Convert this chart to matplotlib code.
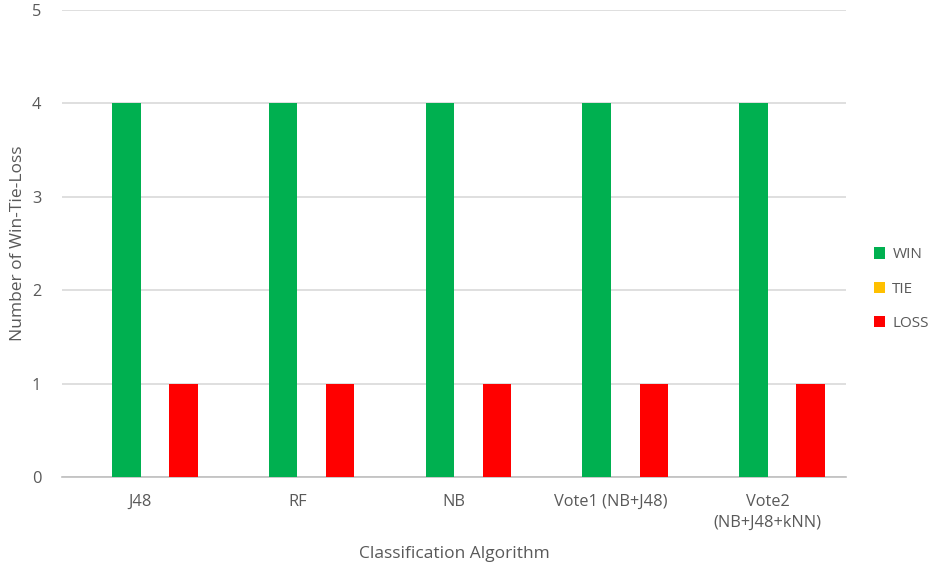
import matplotlib
matplotlib.use("Agg")
import matplotlib.pyplot as plt
import numpy as np

categories = ["J48", "RF", "NB", "Vote1 (NB+J48)", "Vote2\n(NB+J48+kNN)"]
win = [4, 4, 4, 4, 4]
tie = [0, 0, 0, 0, 0]
loss = [1, 1, 1, 1, 1]
series_names = ["WIN", "TIE", "LOSS"]
colors = ["#00B050", "#FFC000", "#FF0000"]

plt.rcParams['font.family'] = ['Open Sans', 'DejaVu Sans']
fig = plt.figure(figsize=(9.3, 5.66), dpi=100)
ax = fig.add_axes([0.0667, 0.1572, 0.8430, 0.8251])

x = np.arange(len(categories))
w = 0.182
offsets = [-0.09, 0.092, 0.274]
for vals, name, c, o in zip([win, tie, loss], series_names, colors, offsets):
    ax.bar(x + o, vals, width=w, color=c, label=name, zorder=3)

ax.set_xlim(-0.5, len(categories) - 0.5)
ax.set_ylim(0, 5)
ax.set_yticks(range(6))
ax.yaxis.grid(True, color="#d9d9d9", linewidth=1.2, zorder=0)
for s in ["top", "right", "left"]:
    ax.spines[s].set_visible(False)
ax.spines["bottom"].set_color("#bfbfbf")
ax.spines["bottom"].set_linewidth(1.2)
ax.tick_params(axis="both", length=0, colors="#595959", labelsize=11.8)
ax.tick_params(axis="x", pad=12)
ax.tick_params(axis="y", pad=15)
ax.set_xticks(x)
ax.set_xticklabels(categories, linespacing=1.4)
ax.set_xlabel("Classification Algorithm", color="#595959", fontsize=12.5, labelpad=11)
ax.set_ylabel("Number of Win-Tie-Loss", color="#595959", fontsize=12.5)
ax.yaxis.set_label_coords(-0.046, 0.5)

leg = fig.legend(loc="center left", bbox_to_anchor=(874 / 930, 1 - 289 / 566), frameon=False,
                 handlelength=0.75, handleheight=0.75, labelspacing=1.25,
                 handletextpad=0.45, fontsize=11, borderpad=0, borderaxespad=0)
for t in leg.get_texts():
    t.set_color("#595959")

fig.savefig("out.png", dpi=100)
